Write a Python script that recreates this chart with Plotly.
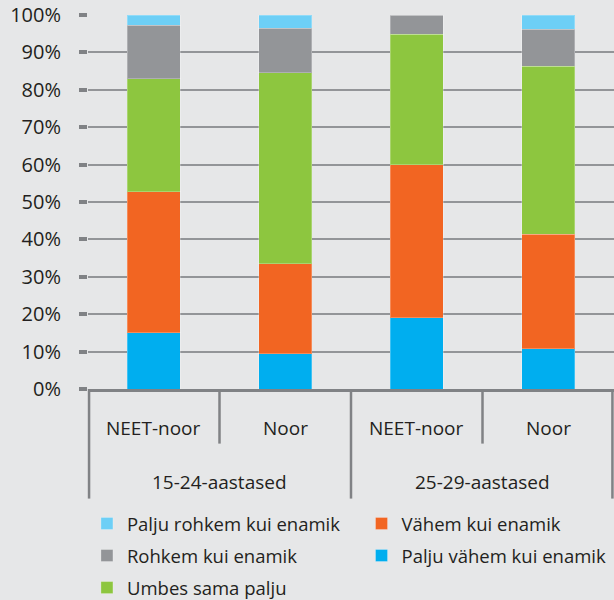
import plotly.graph_objects as go

GROUPS = ["15-24-aastased", "15-24-aastased", "25-29-aastased", "25-29-aastased"]
SUBGROUPS = ["NEET-noor", "Noor", "NEET-noor", "Noor"]
GROUP_LABELS = ["15-24-aastased", "25-29-aastased"]

# bottom to top of each stack
SERIES = [
    "Palju vähem kui enamik",
    "Vähem kui enamik",
    "Umbes sama palju",
    "Rohkem kui enamik",
    "Palju rohkem kui enamik",
]
VALUES = [
    [15.0, 9.4, 19.0, 10.7],
    [37.7, 24.1, 40.9, 30.7],
    [30.3, 51.0, 35.0, 44.9],
    [14.2, 12.0, 5.1, 9.9],
    [2.8, 3.5, 0.0, 3.8],
]
COLORS = ["#00AEEF", "#F26522", "#8DC63F", "#939598", "#6DCFF6"]
# legend: two columns, read top to bottom
LEGEND_ID = ["legend2", "legend2", "legend", "legend", "legend"]
LEGEND_RANK = [2, 1, 3, 2, 1]

BG = "#E6E7E8"
AXIS_GRAY = "#808285"
TEXT = "#231F20"
FONT = "Open Sans"

fig = go.Figure()
for i, (name, vals, color) in enumerate(zip(SERIES, VALUES, COLORS)):
    fig.add_trace(
        go.Bar(
            x=[GROUPS, SUBGROUPS],
            y=vals,
            name=name,
            marker=dict(color=color, line=dict(color="rgba(255,255,255,0.25)", width=1)),
            legend=LEGEND_ID[i],
            legendgroup=name,
            legendrank=LEGEND_RANK[i],
        )
    )

legend_style = dict(
    orientation="v",
    traceorder="grouped",
    tracegroupgap=5,
    yanchor="top",
    xanchor="left",
    font=dict(family=FONT, size=18.5, color=TEXT),
    bgcolor="rgba(0,0,0,0)",
    itemwidth=30,
)

fig.update_layout(
    barmode="stack",
    bargap=0.6,
    width=614,
    height=600,
    paper_bgcolor=BG,
    plot_bgcolor=BG,
    font=dict(family=FONT, size=18, color=TEXT),
    margin=dict(l=88, r=0, t=15, b=211, autoexpand=False),
    showlegend=True,
    legend=dict(legend_style, x=-0.002, y=-0.31),
    legend2=dict(legend_style, x=0.52, y=-0.31),
    xaxis=dict(
        showgrid=False,
        showline=True,
        linecolor=AXIS_GRAY,
        linewidth=3,
        showticklabels=False,
        showdividers=False,
        ticks="",
        automargin=False,
    ),
    yaxis=dict(
        range=[0, 100],
        dtick=10,
        ticksuffix="%",
        showgrid=True,
        gridcolor="#939598",
        gridwidth=1.6,
        zeroline=False,
        showline=False,
        ticks="outside",
        ticklen=8,
        tickwidth=4,
        tickcolor=AXIS_GRAY,
        ticklabelstandoff=14,
        tickfont=dict(family=FONT, size=20, color=TEXT),
        automargin=False,
    ),
)

# category labels under the axis
n = len(SUBGROUPS)
for i, lab in enumerate(SUBGROUPS):
    fig.add_annotation(
        x=(i + 0.5) / n, y=-0.103, xref="paper", yref="paper",
        text=lab, showarrow=False, xanchor="center", yanchor="middle",
        font=dict(family=FONT, size=19, color=TEXT),
    )
for j, lab in enumerate(GROUP_LABELS):
    fig.add_annotation(
        x=(j + 0.5) / len(GROUP_LABELS), y=-0.248, xref="paper", yref="paper",
        text=lab, showarrow=False, xanchor="center", yanchor="middle",
        font=dict(family=FONT, size=19, color=TEXT),
    )

# divider lines: long ones between age groups, short ones inside groups
for xpos in [0.002, 0.5, 0.997]:
    fig.add_shape(type="line", xref="paper", yref="paper", x0=xpos, x1=xpos,
                  y0=0, y1=-0.293, line=dict(color=AXIS_GRAY, width=2.5))
for xpos in [0.25, 0.75]:
    fig.add_shape(type="line", xref="paper", yref="paper", x0=xpos, x1=xpos,
                  y0=0, y1=-0.146, line=dict(color=AXIS_GRAY, width=2.5))

# drop the default page margin so the figure sits at the window corner
fig.write_html(
    "out.html",
    config={"displayModeBar": False},
    post_script="document.body.style.margin='0';document.body.style.background='%s';" % BG,
)
